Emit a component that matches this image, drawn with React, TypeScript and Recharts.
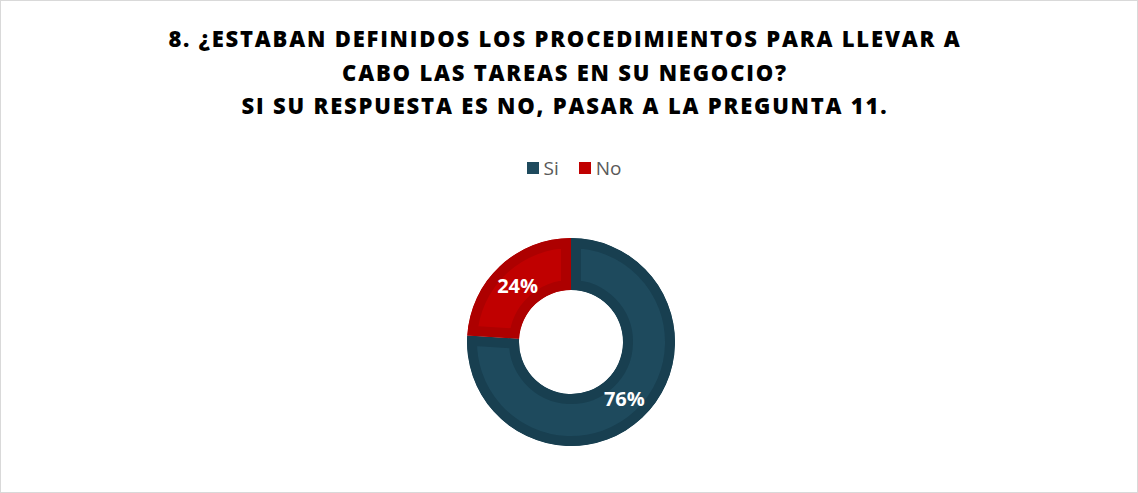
import { PieChart, Pie, Sector } from "recharts";

const categories = ["Si", "No"];
const values = [76, 24];
const fills = ["#1e4a5d", "#c00000"];
const edges = ["#183f50", "#ad0000"];

const titleLines = [
  "8. ¿ESTABAN DEFINIDOS LOS PROCEDIMIENTOS PARA LLEVAR A",
  "CABO LAS TAREAS EN SU NEGOCIO?",
  "SI SU RESPUESTA ES NO, PASAR A LA PREGUNTA 11.",
];

const data = categories.map((name, i) => ({
  name,
  value: values[i],
  fill: fills[i],
  edge: edges[i],
}));

const FONT = "'Open Sans', 'Noto Sans', sans-serif";

// slice with a darker inner band, like the Excel bevel
function BandSlice(props: any) {
  const id = `clip-${props.index}`;
  return (
    <g>
      <defs>
        <clipPath id={id}>
          <Sector {...props} stroke="none" />
        </clipPath>
      </defs>
      <Sector
        {...props}
        fill={props.payload.fill}
        stroke={props.payload.edge}
        strokeWidth={20}
        clipPath={`url(#${id})`}
      />
    </g>
  );
}

function renderLabel(props: any) {
  const { cx, cy, midAngle, innerRadius, outerRadius, value } = props;
  const r = (innerRadius + outerRadius) / 2;
  const rad = (-midAngle * Math.PI) / 180;
  const x = cx + r * Math.cos(rad);
  const y = cy + r * Math.sin(rad);
  return (
    <text
      x={x}
      y={y}
      fill="#ffffff"
      fontSize={20}
      fontWeight={700}
      fontFamily={FONT}
      textAnchor="middle"
      dominantBaseline="central"
    >
      {`${value}%`}
    </text>
  );
}

function LegendRow() {
  return (
    <div
      style={{
        position: "absolute",
        left: 4,
        top: 154,
        width: 1138,
        display: "flex",
        justifyContent: "center",
        gap: 20,
        fontSize: 19,
        color: "#595959",
        lineHeight: "26px",
      }}
    >
      {data.map((d) => (
        <div key={d.name} style={{ display: "flex", alignItems: "center", gap: 5 }}>
          <span style={{ width: 12, height: 12, background: d.fill, display: "inline-block" }} />
          <span>{d.name}</span>
        </div>
      ))}
    </div>
  );
}

export default function App() {
  return (
    <div
      style={{
        position: "absolute",
        left: 0,
        top: 0,
        width: 1138,
        height: 493,
        background: "#ffffff",
        boxSizing: "border-box",
        border: "1px solid #d9d9d9",
        fontFamily: FONT,
      }}
    >
      <div
        style={{
          position: "absolute",
          left: -5,
          top: 21,
          width: 1138,
          textAlign: "center",
          fontSize: 22,
          fontWeight: 800,
          letterSpacing: 1.8,
          lineHeight: "33.5px",
          color: "#000000",
        }}
      >
        {titleLines.map((t) => (
          <div key={t}>{t}</div>
        ))}
      </div>
      <LegendRow />
      <div style={{ position: "absolute", left: 0, top: 0 }}>
        <PieChart width={1138} height={493} margin={{ top: 0, right: 0, bottom: 0, left: 0 }}>
          <Pie
            data={data}
            dataKey="value"
            nameKey="name"
            cx={570}
            cy={341}
            innerRadius={52}
            outerRadius={104}
            startAngle={90}
            endAngle={-270}
            stroke="none"
            shape={BandSlice}
            label={renderLabel}
            labelLine={false}
            isAnimationActive={false}
          />
        </PieChart>
      </div>
    </div>
  );
}
